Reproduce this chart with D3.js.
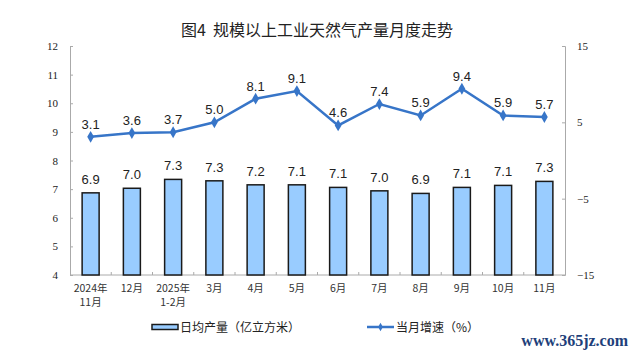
<!DOCTYPE html>
<html><head><meta charset="utf-8">
<script src="https://cdn.jsdelivr.net/npm/d3@7"></script>
<style>body{margin:0;background:#fff}svg{display:block}</style>
</head><body><svg id="c" width="639" height="356"></svg>
<script>
const categories = [["2024年","11月"],["12月"],["2025年","1-2月"],["3月"],["4月"],["5月"],["6月"],["7月"],["8月"],["9月"],["10月"],["11月"]];
const dailyOutput = [6.87,7.03,7.34,7.29,7.15,7.15,7.06,6.94,6.85,7.06,7.13,7.27];
const dailyLabels = ["6.9","7.0","7.3","7.3","7.2","7.1","7.1","7.0","6.9","7.1","7.1","7.3"];
const growth = [3.1,3.6,3.7,5.0,8.1,9.1,4.6,7.4,5.9,9.4,5.9,5.7];
const leftTicks = [4,5,6,7,8,9,10,11,12];
const rightTicks = [-15,-5,5,15];
const title = "图4  规模以上工业天然气产量月度走势";
const legendBar = "日均产量（亿立方米）";
const legendLine = "当月增速（%）";

const svg = d3.select("#c");
const L = 70, R = 565, T = 46, B = 275;
const x = d3.scaleBand().domain(d3.range(categories.length)).range([L, R]);
const yL = d3.scaleLinear().domain([4, 12]).range([B, T]);
const yR = d3.scaleLinear().domain([-15, 15]).range([B, T]);
const cjk = "'Noto Sans CJK SC', sans-serif";
const serif = "'Liberation Serif', 'DejaVu Serif', serif";
const sans = "'Liberation Sans', Arial, sans-serif";

svg.append("text").attr("x", 317).attr("y", 36).attr("text-anchor", "middle")
  .style("white-space", "pre")
  .attr("font-family", cjk).attr("font-size", 16).attr("fill", "#222").text(title);

// left axis
const ga = svg.append("g").attr("transform", `translate(${L},0)`)
  .call(d3.axisLeft(yL).tickValues(leftTicks).tickSize(-3).tickPadding(12));
ga.select(".domain").attr("stroke", "#aaa");
ga.selectAll(".tick line").attr("stroke", "#aaa");
ga.selectAll("text").attr("font-family", serif).attr("font-size", 11).attr("fill", "#222");

// right axis
const gr = svg.append("g").attr("transform", `translate(${R},0)`)
  .call(d3.axisRight(yR).tickValues(rightTicks).tickSize(-3).tickPadding(12));
gr.select(".domain").attr("stroke", "#aaa");
gr.selectAll(".tick line").attr("stroke", "#aaa");
gr.selectAll("text").attr("font-family", serif).attr("font-size", 11).attr("fill", "#222");

// bottom axis
svg.append("line").attr("x1", L).attr("x2", R).attr("y1", B).attr("y2", B).attr("stroke", "#aaa");
svg.append("g").selectAll("line").data(d3.range(1, categories.length)).join("line")
  .attr("x1", d => x(d)).attr("x2", d => x(d)).attr("y1", B).attr("y2", B - 3).attr("stroke", "#aaa");

const lines = [];
categories.forEach((d, i) => d.forEach((t, j) => lines.push({ i, j, t })));
svg.append("g").selectAll("text").data(lines).join("text")
  .attr("x", d => x(d.i) + x.bandwidth() / 2).attr("y", d => 292 + d.j * 14)
  .attr("text-anchor", "middle").attr("font-family", cjk).attr("font-size", 10.5).attr("fill", "#333")
  .text(d => d.t);

// bars
const bw = 17;
svg.append("g").selectAll("rect").data(dailyOutput).join("rect")
  .attr("x", (d, i) => x(i) + x.bandwidth() / 2 - bw / 2).attr("width", bw)
  .attr("y", d => yL(d)).attr("height", d => B - yL(d))
  .attr("fill", "#99CCFF").attr("stroke", "#1a1a1a").attr("stroke-width", 1.5);
svg.append("g").selectAll("text").data(dailyOutput).join("text")
  .attr("x", (d, i) => x(i) + x.bandwidth() / 2).attr("y", d => yL(d) - 9)
  .attr("text-anchor", "middle").attr("font-family", sans).attr("font-size", 13).attr("fill", "#222")
  .text((d, i) => dailyLabels[i]);

// line
const lc = "#3775C8";
const line = d3.line().x((d, i) => x(i) + x.bandwidth() / 2).y(d => yR(d));
svg.append("path").datum(growth).attr("d", line).attr("fill", "none").attr("stroke", lc).attr("stroke-width", 2.5);
const diamond = d3.symbol().type(d3.symbolDiamond).size(40);
svg.append("g").selectAll("path").data(growth).join("path")
  .attr("transform", (d, i) => `translate(${x(i) + x.bandwidth() / 2},${yR(d)})`)
  .attr("d", diamond).attr("fill", lc);
svg.append("g").selectAll("text").data(growth).join("text")
  .attr("x", (d, i) => x(i) + x.bandwidth() / 2).attr("y", d => yR(d) - 8)
  .attr("text-anchor", "middle").attr("font-family", sans).attr("font-size", 13).attr("fill", "#222")
  .text(d => d.toFixed(1));

// legend
const lg = svg.append("g");
lg.append("rect").attr("x", 152).attr("y", 324.5).attr("width", 26).attr("height", 5)
  .attr("fill", "#99CCFF").attr("stroke", "#1a1a1a").attr("stroke-width", 1.5);
lg.append("text").attr("x", 180).attr("y", 331.5).attr("font-family", cjk).attr("font-size", 12).attr("fill", "#222").text(legendBar);
lg.append("line").attr("x1", 367).attr("x2", 394).attr("y1", 327).attr("y2", 327).attr("stroke", lc).attr("stroke-width", 2.5);
lg.append("path").attr("transform", "translate(380.5,327)").attr("d", d3.symbol().type(d3.symbolDiamond).size(20)).attr("fill", lc);
lg.append("text").attr("x", 396).attr("y", 331.5).attr("font-family", cjk).attr("font-size", 12).attr("fill", "#222").text(legendLine);

// watermark
svg.append("text").attr("x", 628).attr("y", 346).attr("text-anchor", "end")
  .attr("font-family", serif).attr("font-size", 16).attr("font-weight", "bold").attr("fill", "#1e3f7a").text("www.365jz.com");
</script></body></html>
